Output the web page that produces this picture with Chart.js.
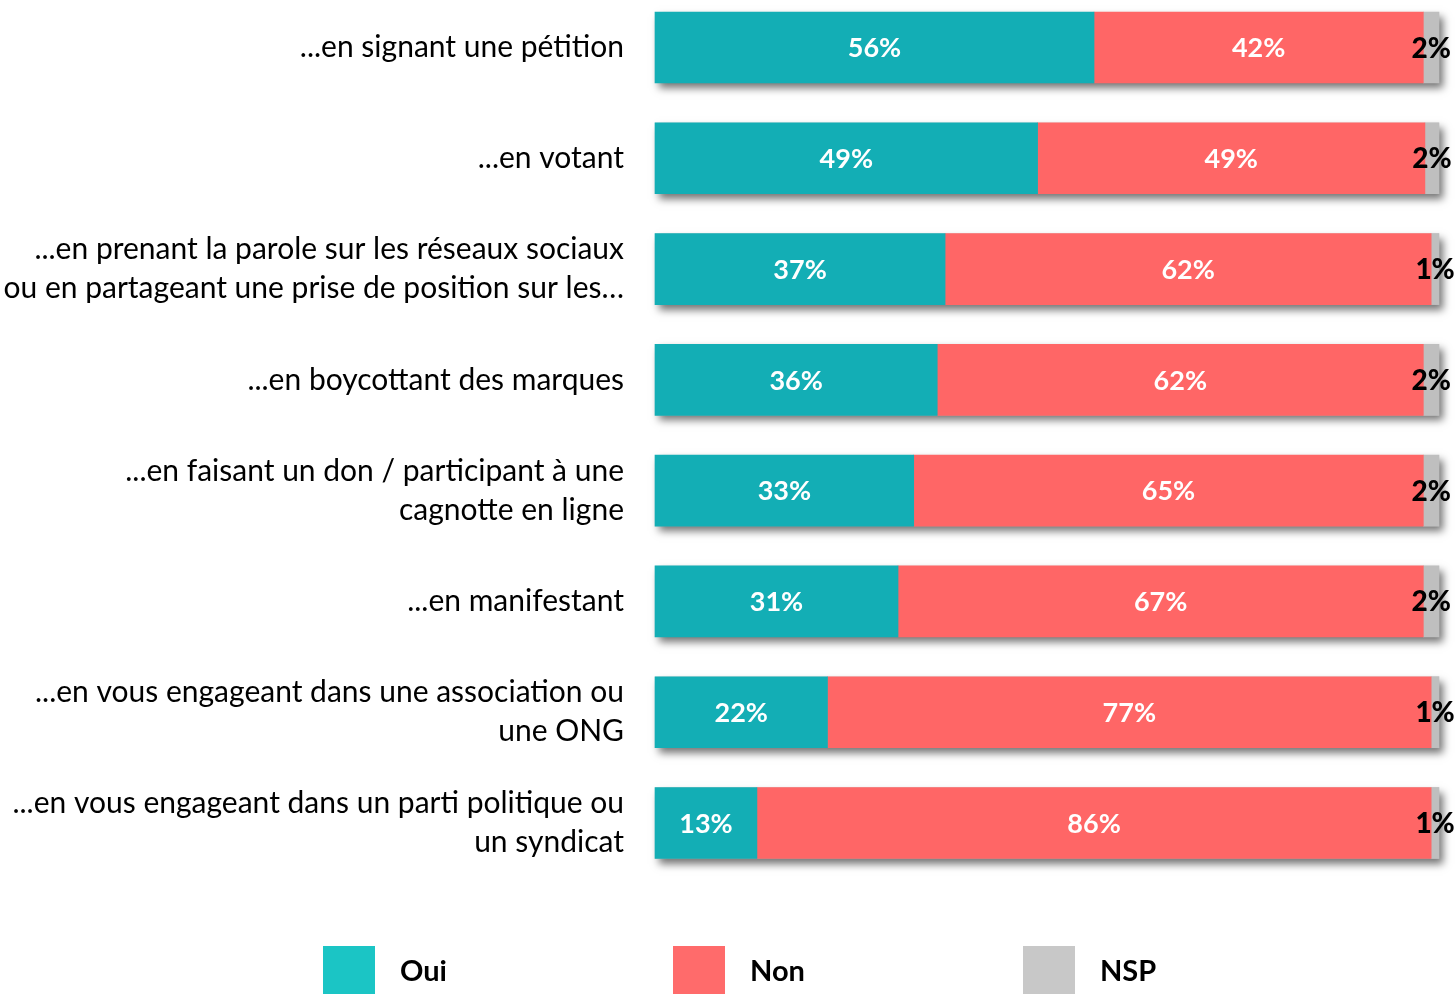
<!DOCTYPE html>
<html>
<head>
<meta charset="utf-8">
<script src="https://cdn.jsdelivr.net/npm/chart.js@4"></script>
<style>
  html, body { margin: 0; padding: 0; background: #fff; }
  #wrap { width: 1456px; height: 994px; position: relative; }
</style>
</head>
<body>
<div id="wrap"><canvas id="engagementChart"></canvas></div>
<script>
var categories = [
    '...en signant une pétition',
    '...en votant',
    ['...en prenant la parole sur les réseaux sociaux', 'ou en partageant une prise de position sur les…'],
    '...en boycottant des marques',
    ['...en faisant un don / participant à une', 'cagnotte en ligne'],
    '...en manifestant',
    ['...en vous engageant dans une association ou', 'une ONG'],
    ['...en vous engageant dans un parti politique ou', 'un syndicat']
];
var ouiValues = [56, 48.8, 37, 36, 33, 31, 22, 13];
var nonValues = [42, 49.4, 62, 62, 65, 67, 77, 86];
var nspValues = [2, 1.8, 1, 2, 2, 2, 1, 1];
var seriesNames = ['Oui', 'Non', 'NSP'];
var barColors = ['#13AEB5', '#FF6666', '#BFBFBF'];
var legendColors = ['#1BC5C5', '#FF6B6B', '#C8C8C8'];

// soft drop shadow behind each full bar row
var barShadow = {
    id: 'barShadow',
    beforeDatasetsDraw: function (chart) {
        var ctx = chart.ctx;
        var first = chart.getDatasetMeta(0).data;
        var last = chart.getDatasetMeta(2).data;
        ctx.save();
        ctx.shadowColor = 'rgba(0,0,0,0.55)';
        ctx.shadowBlur = 8;
        ctx.shadowOffsetX = 4;
        ctx.shadowOffsetY = 5;
        ctx.fillStyle = '#bbb';
        for (var i = 0; i < first.length; i++) {
            var a = first[i], b = last[i];
            ctx.fillRect(a.base, a.y - a.height / 2, b.x - a.base, a.height);
        }
        ctx.restore();
    }
};

// percentage labels inside the segments (NSP in black, a bit larger)
var valueLabels = {
    id: 'valueLabels',
    afterDatasetsDraw: function (chart) {
        var ctx = chart.ctx;
        ctx.save();
        ctx.textAlign = 'center';
        ctx.textBaseline = 'middle';
        chart.data.datasets.forEach(function (ds, di) {
            ctx.font = di === 2 ? '900 28px Lato' : 'bold 27px Lato';
            ctx.fillStyle = di === 2 ? '#000' : '#fff';
            chart.getDatasetMeta(di).data.forEach(function (bar, i) {
                var v = ds.data[i];
                ctx.fillText(Math.round(v) + '%', (bar.x + bar.base) / 2, bar.y + 1);
            });
        });
        ctx.restore();
    }
};

// legend along the bottom edge
var bottomLegend = {
    id: 'bottomLegend',
    afterDraw: function (chart) {
        var ctx = chart.ctx;
        ctx.save();
        ctx.font = 'bold 29px Lato';
        ctx.textBaseline = 'middle';
        seriesNames.forEach(function (name, i) {
            var x = 323 + i * 350;
            ctx.fillStyle = legendColors[i];
            ctx.fillRect(x, 946, 52, 60);
            ctx.fillStyle = '#000';
            ctx.fillText(name, x + 77, 972);
        });
        ctx.restore();
    }
};

var ctx = document.getElementById('engagementChart').getContext('2d');
var engagementChart = new Chart(ctx, {
    type: 'bar',
    data: {
        labels: categories,
        datasets: seriesNames.map(function (name, i) {
            return {
                label: name,
                data: [ouiValues, nonValues, nspValues][i],
                backgroundColor: barColors[i],
                borderWidth: 0,
                barThickness: 71,
                clip: false
            };
        })
    },
    options: {
        indexAxis: 'y',
        responsive: true,
        maintainAspectRatio: false,
        animation: false,
        layout: {
            padding: { top: 47.5, bottom: 171, right: 17, left: 0 }
        },
        plugins: {
            legend: { display: false },
            tooltip: { enabled: false }
        },
        scales: {
            x: {
                stacked: true,
                min: 0,
                max: 100,
                display: false
            },
            y: {
                stacked: true,
                offset: false,
                border: { display: false },
                grid: { display: false, drawTicks: false },
                afterFit: function (scale) {
                    scale.width = 655;
                    scale.paddingTop = 0;
                    scale.paddingBottom = 0;
                },
                ticks: {
                    color: '#000',
                    padding: 31,
                    font: { family: 'Lato', size: 30, lineHeight: 1.3 }
                }
            }
        }
    },
    plugins: [barShadow, valueLabels, bottomLegend]
});
</script>
</body>
</html>
